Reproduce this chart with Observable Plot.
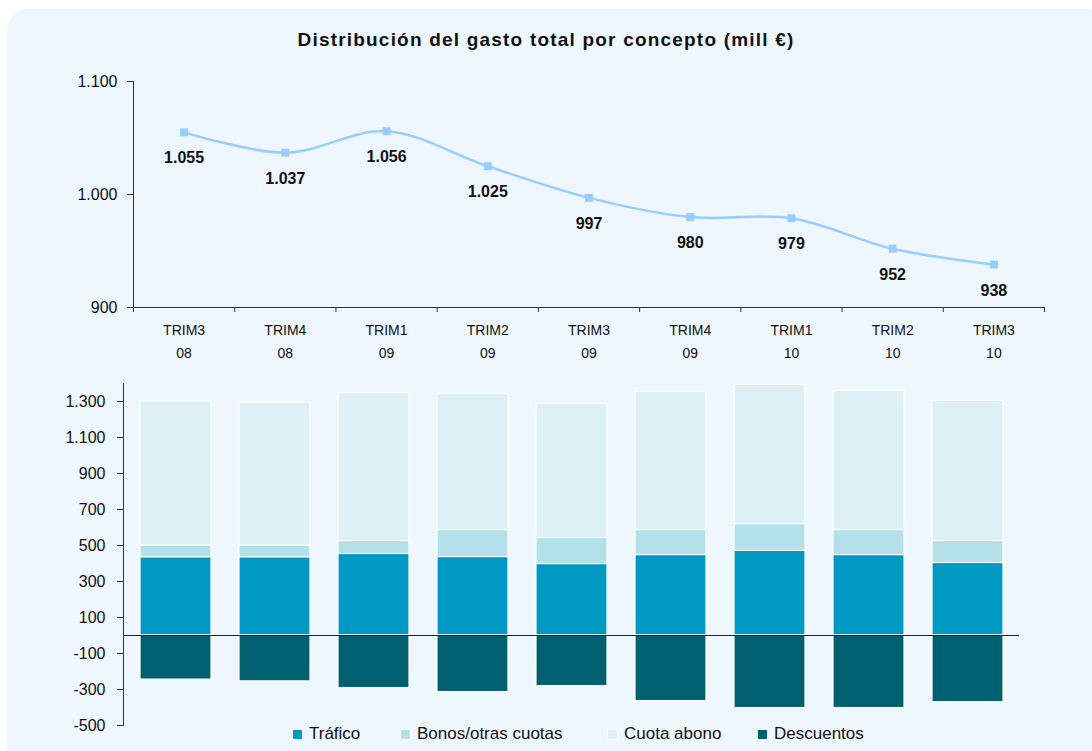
<!DOCTYPE html>
<html><head><meta charset="utf-8">
<script src="https://cdn.jsdelivr.net/npm/d3@7"></script>
<script src="https://cdn.jsdelivr.net/npm/@observablehq/plot@0.6"></script>
<style>
html,body{margin:0;padding:0;background:#fff;}
body{width:1092px;height:751px;position:relative;overflow:hidden;font-family:"Liberation Sans",Arial,sans-serif;}
#panel{position:absolute;left:7px;top:9px;width:1100px;height:760px;background:#EEF6FE;border-radius:22px;}
#title{position:absolute;left:0;top:29px;width:1092px;text-align:center;font-weight:bold;font-size:19px;letter-spacing:1.2px;color:#111;}
#top,#bottom{position:absolute;left:0;}
#top{top:0;}
#bottom{top:370px;}
#legend{position:absolute;top:724px;left:0;width:1092px;font-size:17px;color:#111;}
#legend span.item{position:absolute;display:flex;align-items:center;white-space:nowrap;}
#legend span.sw{display:inline-block;width:9px;height:9px;margin-right:6px;border:1px solid #fff;}
svg{overflow:visible;}
</style></head>
<body>
<div id="panel"></div>
<div id="title">Distribución del gasto total por concepto (mill €)</div>
<div id="top"></div>
<div id="bottom"></div>
<div id="legend"></div>
<script>
const quarters = ["TRIM3\n08","TRIM4\n08","TRIM1\n09","TRIM2\n09","TRIM3\n09","TRIM4\n09","TRIM1\n10","TRIM2\n10","TRIM3\n10"];
const totalGasto = [1055, 1037, 1056, 1025, 997, 980, 979, 952, 938];
const trafico = [435, 435, 453, 436, 397, 447, 470, 447, 403];
const bonos = [65, 65, 72, 150, 145, 139, 149, 139, 122];
const cuota = [800, 792, 822, 756, 744, 767, 773, 772, 778];
const descuentos = [-245, -255, -292, -314, -281, -364, -403, -403, -370];
const seriesNames = ["Tráfico", "Bonos/otras cuotas", "Cuota abono", "Descuentos"];
const seriesColors = ["#0099C4", "#B3E0EB", "#DCF0F5", "#00606F"];
const topTicks = [900, 1000, 1100];
const bottomTicks = [-500, -300, -100, 100, 300, 500, 700, 900, 1100, 1300];

const loc = d3.formatLocale({decimal: ",", thousands: ".", grouping: [3], currency: ["", " €"], minus: "-"});
const fmt = loc.format(",d");
const FONT = "Liberation Sans, Arial, sans-serif";

// Top line chart
const lineData = quarters.map((q, i) => ({i: i + 0.5, q, v: totalGasto[i]}));
const edges = d3.range(quarters.length + 1);
const topPlot = Plot.plot({
  width: 1092, height: 370,
  marginLeft: 133, marginRight: 48, marginTop: 81, marginBottom: 63,
  style: {background: "transparent", fontFamily: FONT, fontSize: "14px", color: "#111"},
  x: {type: "linear", domain: [0, quarters.length], axis: null},
  y: {type: "linear", domain: [900, 1100], axis: null},
  marks: [
    Plot.axisY({ticks: topTicks, tickFormat: fmt, tickSize: 6, tickPadding: 10, fontSize: 16, stroke: "#333", label: null}),
    Plot.frame({anchor: "left", stroke: "#333"}),
    Plot.frame({anchor: "bottom", stroke: "#333"}),
    Plot.ruleX(edges, {x: d => d, y1: 900, y2: 900, insetBottom: -5, stroke: "#333"}),
    Plot.text(lineData, {x: "i", y: 900, text: "q", dy: 32, lineHeight: 1.6, fontSize: 14, fill: "#111"}),
    Plot.line(lineData, {x: "i", y: "v", curve: "catmull-rom", stroke: "#99CCFF", strokeWidth: 2.5}),
    Plot.dot(lineData, {x: "i", y: "v", symbol: "square", r: 4.5, fill: "#99CCFF", stroke: "none"}),
    Plot.text(lineData, {x: "i", y: "v", text: d => fmt(d.v), dy: 26, fontSize: 16, fontWeight: "bold", fill: "#111"})
  ]
});
document.getElementById("top").appendChild(topPlot);

// Bottom stacked bar chart
const barData = [];
quarters.forEach((q, i) => {
  barData.push({q, s: seriesNames[0], v: trafico[i]});
  barData.push({q, s: seriesNames[1], v: bonos[i]});
  barData.push({q, s: seriesNames[2], v: cuota[i]});
  barData.push({q, s: seriesNames[3], v: descuentos[i]});
});
const botPlot = Plot.plot({
  width: 1092, height: 360,
  marginLeft: 123, marginRight: 73, marginTop: 13, marginBottom: 5,
  style: {background: "transparent", fontFamily: FONT, fontSize: "14px", color: "#111"},
  x: {domain: quarters, paddingInner: 0.286, paddingOuter: 0.16, axis: null},
  y: {domain: [-500, 1400], axis: null},
  color: {domain: seriesNames, range: seriesColors},
  marks: [
    Plot.axisY({ticks: bottomTicks, tickFormat: fmt, tickSize: 6, tickPadding: 12, fontSize: 16, stroke: "#333", label: null}),
    Plot.frame({anchor: "left", stroke: "#333"}),
    Plot.barY(barData, {x: "q", y: "v", fill: "s", stroke: "#fff", strokeWidth: 1.2, order: seriesNames, inset: 0}),
    Plot.ruleY([0], {stroke: "#222", strokeWidth: 1.2})
  ]
});
document.getElementById("bottom").appendChild(botPlot);

// Legend
const legendX = [292, 400, 607, 757];
const lg = document.getElementById("legend");
seriesNames.forEach((n, i) => {
  const it = document.createElement("span");
  it.className = "item";
  it.style.left = legendX[i] + "px";
  const sw = document.createElement("span");
  sw.className = "sw";
  sw.style.background = seriesColors[i];
  it.appendChild(sw);
  it.appendChild(document.createTextNode(n));
  lg.appendChild(it);
});
</script>
</body></html>
